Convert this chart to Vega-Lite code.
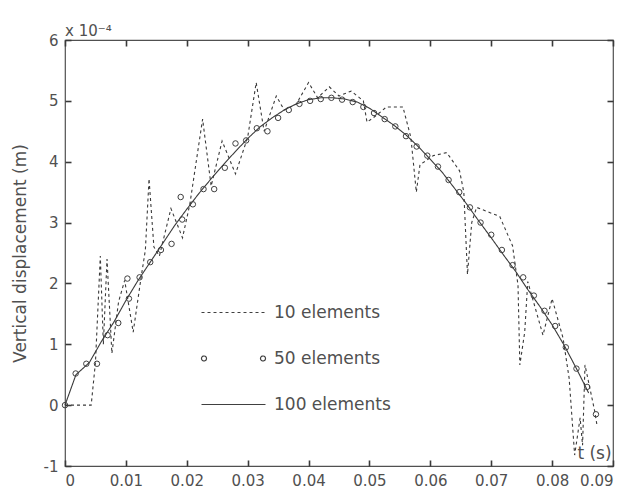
{
  "$schema": "https://vega.github.io/schema/vega-lite/v6.json",
  "width": 548,
  "height": 426,
  "autosize": {"type": "none"},
  "padding": {"left": 65, "top": 40, "right": 19, "bottom": 29},
  "background": "white",
  "config": {
    "view": {"stroke": "#505050", "strokeWidth": 1.2},
    "font": "DejaVu Sans",
    "axis": {
      "grid": false,
      "labelColor": "#505050",
      "labelFontSize": 15,
      "titleColor": "#505050",
      "titleFontSize": 17,
      "titleFontWeight": "normal"
    }
  },
  "title": {
    "text": "x 10⁻⁴",
    "anchor": "start",
    "frame": "group",
    "fontSize": 15,
    "fontWeight": "normal",
    "color": "#505050",
    "offset": 7,
    "dy": 25,
    "baseline": "alphabetic"
  },
  "datasets": {
    "lines": [
      {"s": "10 elements", "t": 0, "y": 0}, {"s": "10 elements", "t": 0.0043, "y": 0}, {"s": "10 elements", "t": 0.005, "y": 0.7}, {"s": "10 elements", "t": 0.0058, "y": 2.45},
      {"s": "10 elements", "t": 0.0063, "y": 1.0}, {"s": "10 elements", "t": 0.0069, "y": 2.4}, {"s": "10 elements", "t": 0.0077, "y": 0.85}, {"s": "10 elements", "t": 0.0088, "y": 1.7},
      {"s": "10 elements", "t": 0.0098, "y": 2.05}, {"s": "10 elements", "t": 0.0112, "y": 1.2}, {"s": "10 elements", "t": 0.0125, "y": 2.1}, {"s": "10 elements", "t": 0.0132, "y": 2.55},
      {"s": "10 elements", "t": 0.0138, "y": 3.72}, {"s": "10 elements", "t": 0.0146, "y": 2.6}, {"s": "10 elements", "t": 0.0155, "y": 2.45}, {"s": "10 elements", "t": 0.0174, "y": 3.23},
      {"s": "10 elements", "t": 0.0193, "y": 2.75}, {"s": "10 elements", "t": 0.0205, "y": 3.3}, {"s": "10 elements", "t": 0.0226, "y": 4.7}, {"s": "10 elements", "t": 0.024, "y": 3.6},
      {"s": "10 elements", "t": 0.0258, "y": 4.34}, {"s": "10 elements", "t": 0.028, "y": 3.8}, {"s": "10 elements", "t": 0.03, "y": 4.4}, {"s": "10 elements", "t": 0.0314, "y": 5.3},
      {"s": "10 elements", "t": 0.0327, "y": 4.5}, {"s": "10 elements", "t": 0.0347, "y": 5.08}, {"s": "10 elements", "t": 0.036, "y": 4.85}, {"s": "10 elements", "t": 0.038, "y": 4.95},
      {"s": "10 elements", "t": 0.04, "y": 5.3}, {"s": "10 elements", "t": 0.0415, "y": 5.05}, {"s": "10 elements", "t": 0.0434, "y": 5.23}, {"s": "10 elements", "t": 0.045, "y": 5.08},
      {"s": "10 elements", "t": 0.047, "y": 5.16}, {"s": "10 elements", "t": 0.049, "y": 5.0}, {"s": "10 elements", "t": 0.0496, "y": 4.65}, {"s": "10 elements", "t": 0.051, "y": 4.75},
      {"s": "10 elements", "t": 0.0528, "y": 4.9}, {"s": "10 elements", "t": 0.0555, "y": 4.9}, {"s": "10 elements", "t": 0.0568, "y": 4.4}, {"s": "10 elements", "t": 0.0577, "y": 3.5},
      {"s": "10 elements", "t": 0.0583, "y": 3.95}, {"s": "10 elements", "t": 0.0605, "y": 4.1}, {"s": "10 elements", "t": 0.0627, "y": 4.15}, {"s": "10 elements", "t": 0.0648, "y": 3.85},
      {"s": "10 elements", "t": 0.0655, "y": 3.5}, {"s": "10 elements", "t": 0.0661, "y": 2.15}, {"s": "10 elements", "t": 0.0668, "y": 3.0}, {"s": "10 elements", "t": 0.0676, "y": 3.25},
      {"s": "10 elements", "t": 0.0714, "y": 3.1}, {"s": "10 elements", "t": 0.0735, "y": 2.62}, {"s": "10 elements", "t": 0.0744, "y": 1.97}, {"s": "10 elements", "t": 0.0747, "y": 0.66},
      {"s": "10 elements", "t": 0.0755, "y": 1.2}, {"s": "10 elements", "t": 0.076, "y": 2.03}, {"s": "10 elements", "t": 0.0785, "y": 1.15}, {"s": "10 elements", "t": 0.08, "y": 1.75},
      {"s": "10 elements", "t": 0.0818, "y": 1.1}, {"s": "10 elements", "t": 0.0828, "y": 0.44}, {"s": "10 elements", "t": 0.0837, "y": -0.82}, {"s": "10 elements", "t": 0.0846, "y": -0.21},
      {"s": "10 elements", "t": 0.085, "y": -0.66}, {"s": "10 elements", "t": 0.0854, "y": 0.66}, {"s": "10 elements", "t": 0.087, "y": -0.1}, {"s": "10 elements", "t": 0.0874, "y": -0.35},
      {"s": "100 elements", "t": 0, "y": 0}, {"s": "100 elements", "t": 0.0018, "y": 0.5}, {"s": "100 elements", "t": 0.004, "y": 0.7}, {"s": "100 elements", "t": 0.006, "y": 1.05},
      {"s": "100 elements", "t": 0.008, "y": 1.36}, {"s": "100 elements", "t": 0.01, "y": 1.72}, {"s": "100 elements", "t": 0.012, "y": 2.05}, {"s": "100 elements", "t": 0.014, "y": 2.35},
      {"s": "100 elements", "t": 0.016, "y": 2.65}, {"s": "100 elements", "t": 0.018, "y": 2.95}, {"s": "100 elements", "t": 0.02, "y": 3.22}, {"s": "100 elements", "t": 0.022, "y": 3.48},
      {"s": "100 elements", "t": 0.024, "y": 3.72}, {"s": "100 elements", "t": 0.026, "y": 3.95}, {"s": "100 elements", "t": 0.028, "y": 4.17}, {"s": "100 elements", "t": 0.03, "y": 4.38},
      {"s": "100 elements", "t": 0.032, "y": 4.57}, {"s": "100 elements", "t": 0.034, "y": 4.72}, {"s": "100 elements", "t": 0.036, "y": 4.85}, {"s": "100 elements", "t": 0.038, "y": 4.95},
      {"s": "100 elements", "t": 0.04, "y": 5.02}, {"s": "100 elements", "t": 0.042, "y": 5.05}, {"s": "100 elements", "t": 0.044, "y": 5.05}, {"s": "100 elements", "t": 0.046, "y": 5.03},
      {"s": "100 elements", "t": 0.048, "y": 4.98}, {"s": "100 elements", "t": 0.05, "y": 4.88}, {"s": "100 elements", "t": 0.052, "y": 4.74}, {"s": "100 elements", "t": 0.054, "y": 4.6},
      {"s": "100 elements", "t": 0.056, "y": 4.44}, {"s": "100 elements", "t": 0.058, "y": 4.25}, {"s": "100 elements", "t": 0.06, "y": 4.04}, {"s": "100 elements", "t": 0.062, "y": 3.82},
      {"s": "100 elements", "t": 0.064, "y": 3.56}, {"s": "100 elements", "t": 0.066, "y": 3.3}, {"s": "100 elements", "t": 0.068, "y": 3.02}, {"s": "100 elements", "t": 0.07, "y": 2.75},
      {"s": "100 elements", "t": 0.072, "y": 2.47}, {"s": "100 elements", "t": 0.074, "y": 2.2}, {"s": "100 elements", "t": 0.076, "y": 1.9}, {"s": "100 elements", "t": 0.078, "y": 1.62},
      {"s": "100 elements", "t": 0.08, "y": 1.32}, {"s": "100 elements", "t": 0.082, "y": 0.98}, {"s": "100 elements", "t": 0.084, "y": 0.6}, {"s": "100 elements", "t": 0.086, "y": 0.2}
    ],
    "d50": [
      {"t": 0, "y": 0}, {"t": 0.00175, "y": 0.52}, {"t": 0.0035, "y": 0.68}, {"t": 0.00525, "y": 0.68},
      {"t": 0.007, "y": 1.15}, {"t": 0.00875, "y": 1.35}, {"t": 0.0105, "y": 1.75}, {"t": 0.01025, "y": 2.08},
      {"t": 0.01225, "y": 2.1}, {"t": 0.014, "y": 2.35}, {"t": 0.01575, "y": 2.55}, {"t": 0.0175, "y": 2.65},
      {"t": 0.01925, "y": 3.05}, {"t": 0.019, "y": 3.42}, {"t": 0.021, "y": 3.3}, {"t": 0.02275, "y": 3.55},
      {"t": 0.0245, "y": 3.55}, {"t": 0.02625, "y": 3.9}, {"t": 0.028, "y": 4.3}, {"t": 0.02975, "y": 4.35},
      {"t": 0.0315, "y": 4.55}, {"t": 0.03325, "y": 4.5}, {"t": 0.035, "y": 4.72}, {"t": 0.03675, "y": 4.85},
      {"t": 0.0385, "y": 4.95}, {"t": 0.04025, "y": 5.0}, {"t": 0.042, "y": 5.03}, {"t": 0.04375, "y": 5.05},
      {"t": 0.0455, "y": 5.02}, {"t": 0.04725, "y": 4.98}, {"t": 0.049, "y": 4.9}, {"t": 0.05075, "y": 4.8},
      {"t": 0.0525, "y": 4.7}, {"t": 0.05425, "y": 4.58}, {"t": 0.056, "y": 4.42}, {"t": 0.05775, "y": 4.25},
      {"t": 0.0595, "y": 4.1}, {"t": 0.06125, "y": 3.92}, {"t": 0.063, "y": 3.7}, {"t": 0.06475, "y": 3.5},
      {"t": 0.0665, "y": 3.25}, {"t": 0.06825, "y": 3.0}, {"t": 0.07, "y": 2.8}, {"t": 0.07175, "y": 2.55},
      {"t": 0.0735, "y": 2.3}, {"t": 0.07525, "y": 2.1}, {"t": 0.077, "y": 1.8}, {"t": 0.07875, "y": 1.55},
      {"t": 0.0805, "y": 1.3}, {"t": 0.08225, "y": 0.95}, {"t": 0.084, "y": 0.6}, {"t": 0.08575, "y": 0.3},
      {"t": 0.0872, "y": -0.15}
    ]
  },
  "layer": [
    {
      "data": {"name": "lines"},
      "mark": {"type": "line", "color": "#3a3a3a", "strokeWidth": 1.1},
      "encoding": {
        "x": {
          "field": "t", "type": "quantitative",
          "scale": {"domain": [0, 0.09], "nice": false, "zero": false},
          "axis": {
            "orient": "bottom",
            "values": [0, 0.01, 0.02, 0.03, 0.04, 0.05, 0.06, 0.07, 0.08, 0.09],
            "format": "~f",
            "domain": false,
            "ticks": true,
            "tickSize": -6,
            "tickColor": "#3a3a3a",
            "tickWidth": 1.6,
            "labelPadding": 13,
            "title": "t (s)",
            "titleX": 529,
            "titleY": -13,
            "titleAlign": "center",
            "titleBaseline": "middle",
            "titleAngle": 0
          }
        },
        "y": {
          "field": "y", "type": "quantitative",
          "scale": {"domain": [-1, 6], "nice": false, "zero": false},
          "axis": {
            "orient": "left",
            "values": [-1, 0, 1, 2, 3, 4, 5, 6],
            "labelExpr": "'' + datum.value",
            "domain": false,
            "ticks": true,
            "tickSize": -6,
            "tickColor": "#3a3a3a",
            "tickWidth": 1.6,
            "labelPadding": 13,
            "title": "Vertical displacement (m)",
            "titleX": -45,
            "titleY": 213,
            "titleAlign": "center",
            "titleBaseline": "middle",
            "titleAngle": -90
          }
        },
        "strokeDash": {
          "field": "s", "type": "nominal",
          "scale": {"domain": ["10 elements", "50 elements", "100 elements"], "range": [[3, 3], [1, 0], [1, 0]]},
          "legend": {
            "orient": "none",
            "legendX": 160,
            "legendY": 264,
            "title": null,
            "symbolType": "M-6.4,0H6.4",
            "symbolSize": 100,
            "symbolStrokeWidth": 1.2,
            "symbolStrokeColor": "#404040",
            "symbolFillColor": "transparent",
            "labelFontSize": 17,
            "labelColor": "#505050",
            "labelOffset": 32,
            "rowPadding": 28,
            "padding": 0,
            "labelLimit": 300,
            "encode": {
              "symbols": {
                "update": {
                  "shape": {"signal": "datum.value === '50 elements' ? 'M-6.4,0A0.5,0.5,0,1,1,-5.4,0A0.5,0.5,0,1,1,-6.4,0ZM5.4,0A0.5,0.5,0,1,1,6.4,0A0.5,0.5,0,1,1,5.4,0Z' : 'M-6.4,0H6.4'"},
                  "fill": {"value": "transparent"},
                  "stroke": {"value": "#404040"}
                }
              }
            }
          }
        }
      }
    },
    {
      "data": {"name": "d50"},
      "mark": {"type": "point", "shape": "circle", "filled": false, "size": 30, "color": "#404040", "strokeWidth": 1, "opacity": 1},
      "encoding": {
        "x": {
          "field": "t", "type": "quantitative",
          "axis": {
            "orient": "top",
            "values": [0, 0.01, 0.02, 0.03, 0.04, 0.05, 0.06, 0.07, 0.08, 0.09],
            "labels": false,
            "domain": false,
            "ticks": true,
            "tickSize": -6,
            "tickColor": "#3a3a3a",
            "tickWidth": 1.6,
            "title": null
          }
        },
        "y": {
          "field": "y", "type": "quantitative",
          "axis": {
            "orient": "right",
            "values": [-1, 0, 1, 2, 3, 4, 5, 6],
            "labels": false,
            "domain": false,
            "ticks": true,
            "tickSize": -6,
            "tickColor": "#3a3a3a",
            "tickWidth": 1.6,
            "title": null
          }
        }
      }
    }
  ],
  "resolve": {"axis": {"x": "independent", "y": "independent"}}
}
